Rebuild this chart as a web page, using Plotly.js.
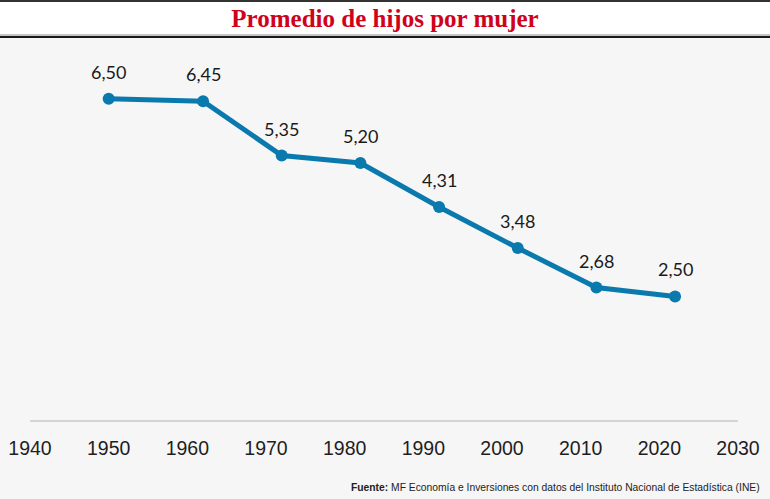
<!DOCTYPE html>
<html>
<head>
<meta charset="utf-8">
<script src="https://cdn.plot.ly/plotly-3.0.1.min.js"></script>
<style>html,body{margin:0;padding:0;background:#f6f6f6;}#chart{width:770px;height:499px;}</style>
</head>
<body>
<div id="chart"></div>
<script>
// Data
const years = [1950, 1962, 1972, 1982, 1992, 2002, 2012, 2022];
const childrenPerWoman = [6.50, 6.45, 5.35, 5.20, 4.31, 3.48, 2.68, 2.50];
const xTicks = [1940, 1950, 1960, 1970, 1980, 1990, 2000, 2010, 2020, 2030];
const titleText = 'Promedio de hijos por mujer';
const sourceText = '<b>Fuente:</b> MF Economía e Inversiones con datos del Instituto Nacional de Estadística (INE)';

const W = 770, H = 499;
const M = {l: 30, r: 32, t: 74, b: 79};
const plotH = H - M.t - M.b;
const plotW = W - M.l - M.r;
// convert page pixel to paper coords
const py = p => (H - M.b - p) / plotH;
const px = p => (p - M.l) / plotW;

const blue = '#0a79ae';

const trace = {
  x: years,
  y: childrenPerWoman,
  type: 'scatter',
  mode: 'lines+markers',
  line: {color: blue, width: 5},
  marker: {color: blue, size: 12},
  hoverinfo: 'skip'
};

const labelAnns = years.map((yr, i) => ({
  x: yr, y: childrenPerWoman[i], xref: 'x', yref: 'y',
  text: childrenPerWoman[i].toFixed(2).replace('.', ','),
  showarrow: false, yanchor: 'middle', xanchor: 'center', yshift: 27,
  font: {family: 'Lato, "Open Sans", sans-serif', size: 18, color: '#1a1a1a'}
}));

const layout = {
  width: W, height: H,
  margin: M,
  paper_bgcolor: '#f6f6f6',
  plot_bgcolor: '#f6f6f6',
  showlegend: false,
  title: {
    text: titleText,
    font: {family: '"Liberation Serif", serif', size: 25, color: '#d0021b', weight: 'bold'},
    x: 0.5, xref: 'container', xanchor: 'center',
    y: 1 - 18 / H, yref: 'container', yanchor: 'middle'
  },
  xaxis: {
    range: [1940, 2030],
    tickvals: xTicks,
    ticktext: xTicks.map(String),
    showgrid: false, zeroline: false,
    showline: true, linecolor: '#d4d4d4', linewidth: 2,
    ticks: '', ticklabelstandoff: 10,
    tickfont: {family: '"Liberation Sans", Arial, sans-serif', size: 19.5, color: '#1e1e1e'},
    fixedrange: true
  },
  yaxis: {
    range: [0, 7],
    visible: false,
    fixedrange: true
  },
  shapes: [
    {type: 'rect', xref: 'paper', yref: 'paper', x0: px(-5), x1: px(W + 5), y0: py(37), y1: py(-5), fillcolor: '#ffffff', line: {width: 0}, layer: 'below'},
    {type: 'line', xref: 'paper', yref: 'paper', x0: px(-5), x1: px(W + 5), y0: py(1), y1: py(1), line: {color: '#333333', width: 2}},
    {type: 'line', xref: 'paper', yref: 'paper', x0: px(-5), x1: px(W + 5), y0: py(35), y1: py(35), line: {color: '#8a8a8a', width: 1}},
    {type: 'line', xref: 'paper', yref: 'paper', x0: px(-5), x1: px(W + 5), y0: py(37), y1: py(37), line: {color: '#1a1a1a', width: 2}}
  ],
  annotations: labelAnns.concat([{
    xref: 'paper', yref: 'paper', x: px(762), y: py(487),
    xanchor: 'right', yanchor: 'middle', showarrow: false,
    text: sourceText,
    font: {family: '"Liberation Sans", Arial, sans-serif', size: 10.3, color: '#222222'}
  }])
};

Plotly.newPlot('chart', [trace], layout, {displayModeBar: false, staticPlot: true});
</script>
</body>
</html>
